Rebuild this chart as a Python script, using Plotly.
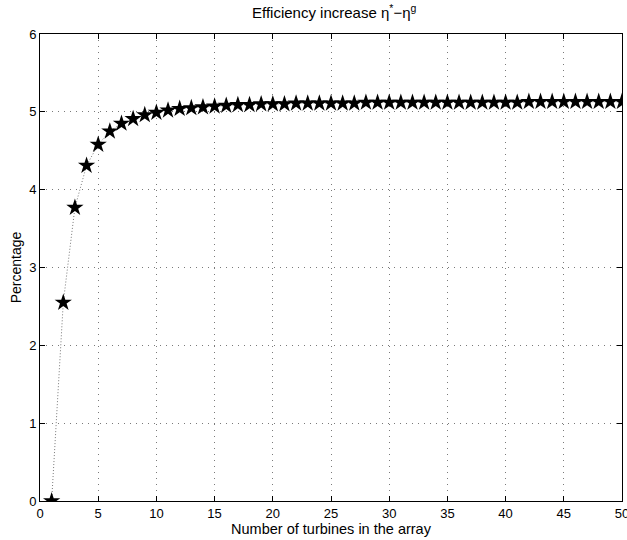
import plotly.graph_objects as go

turbines = list(range(1, 51))
efficiency_increase = [
    0.00, 2.55, 3.77, 4.31, 4.58, 4.75, 4.85, 4.91, 4.96, 4.99,
    5.02, 5.04, 5.05, 5.06, 5.07, 5.08, 5.09, 5.09, 5.10, 5.10,
    5.10, 5.11, 5.11, 5.11, 5.11, 5.11, 5.11, 5.12, 5.12, 5.12,
    5.12, 5.12, 5.12, 5.12, 5.12, 5.12, 5.12, 5.12, 5.12, 5.12,
    5.12, 5.13, 5.13, 5.13, 5.13, 5.13, 5.13, 5.13, 5.13, 5.13,
]
x_ticks = list(range(0, 51, 5))
y_ticks = list(range(0, 7))

font = "Liberation Sans, Arial, Helvetica, sans-serif"

fig = go.Figure()
fig.add_trace(go.Scatter(
    x=turbines, y=efficiency_increase, mode="lines+markers",
    line=dict(color="#555555", width=0.8, dash="1px,2px"),
    marker=dict(symbol="star", size=13, color="black", line=dict(width=0)),
    showlegend=False,
))

axis_common = dict(
    showline=True, linecolor="black", linewidth=1, mirror="ticks",
    ticks="inside", ticklen=5, tickcolor="black",
    showgrid=True, gridcolor="#7a7a7a", griddash="1px,5px", gridwidth=1,
    zeroline=False, tickfont=dict(family=font, size=13, color="black"),
    automargin=False, ticklabeloverflow="allow",
)

fig.update_layout(
    width=627, height=540,
    margin=dict(l=40, r=5, t=34, b=39),
    plot_bgcolor="white", paper_bgcolor="white",
    title=dict(text="Efficiency increase η<sup>*</sup>−η<sup>g</sup>",
               x=0.533, xanchor="center", y=0.976, yref="container", yanchor="middle",
               font=dict(family=font, size=15, color="black")),
    xaxis=dict(range=[0, 50], tickvals=x_ticks,
               title=dict(text="Number of turbines in the array", standoff=2,
                          font=dict(family=font, size=14.5, color="black")),
               **axis_common),
    yaxis=dict(range=[0, 6], tickvals=y_ticks,
               title=dict(text="Percentage", standoff=4,
                          font=dict(family=font, size=14, color="black")),
               **axis_common),
)

fig.write_html("out.html", config={"displayModeBar": False},
               post_script="document.body.style.margin='0';")
